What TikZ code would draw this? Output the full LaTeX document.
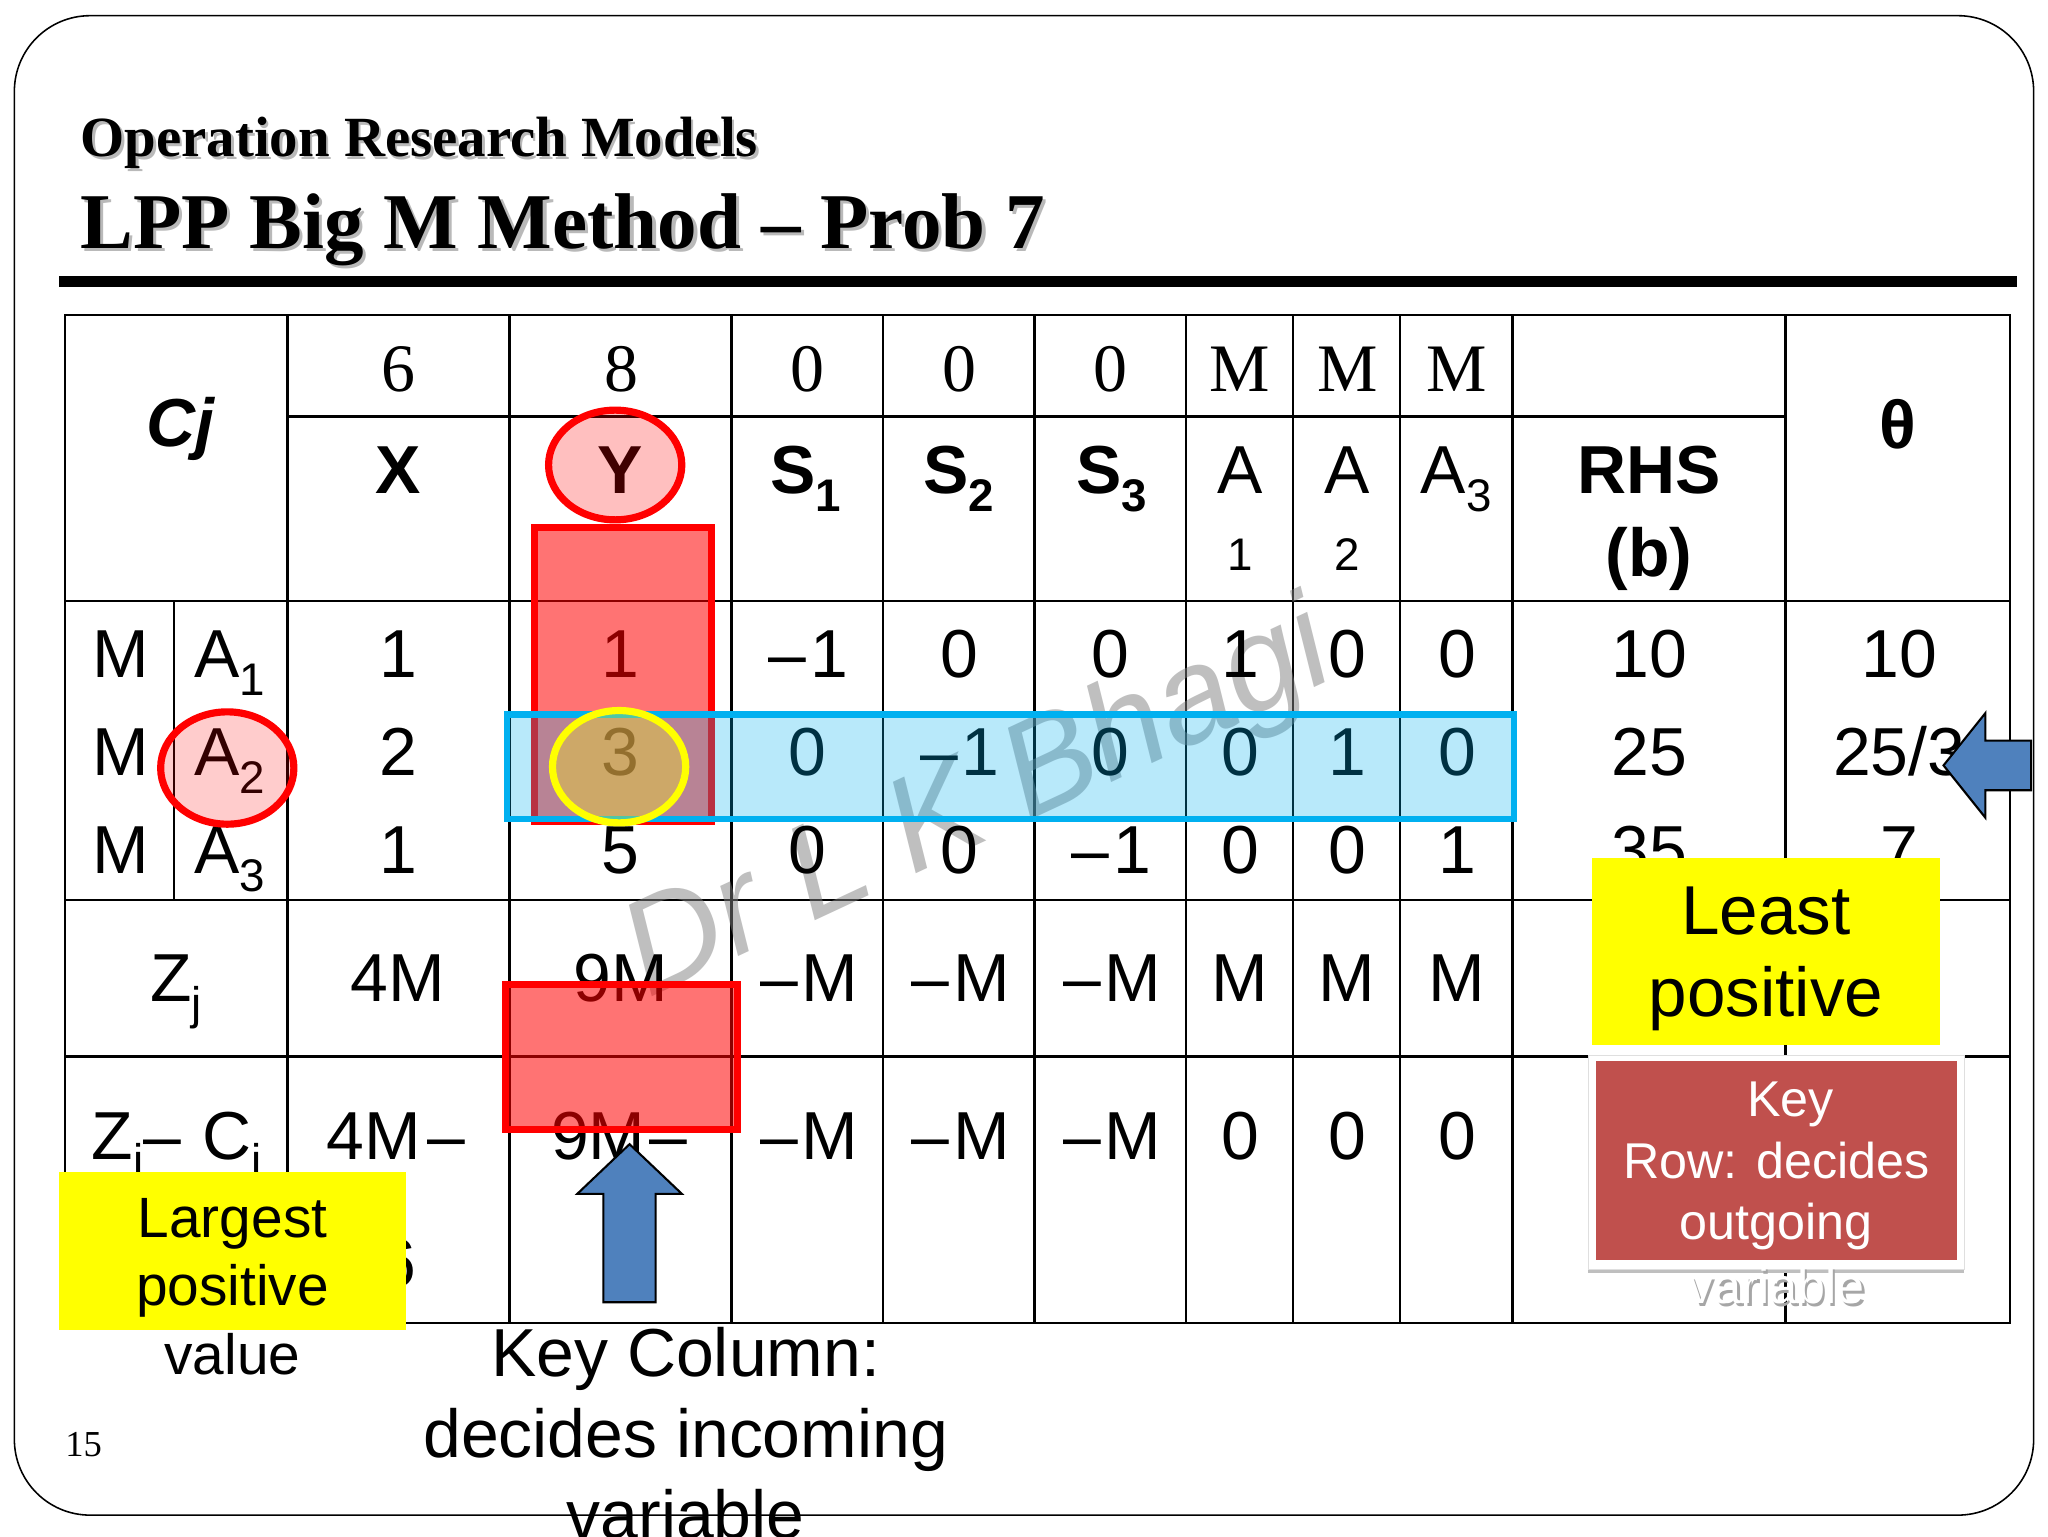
\documentclass[tikz,border=0pt]{standalone}
\usepackage{fontspec}
\setmainfont{Liberation Sans}
\newfontfamily\timesfont{Liberation Serif}
\definecolor{rowblue}{HTML}{00B0F0}
\definecolor{arrowblue}{HTML}{4F81BD}
\definecolor{keyred}{HTML}{C0504D}
\definecolor{noteyellow}{RGB}{255,255,0}
\definecolor{ringred}{RGB}{255,0,0}
\newcommand{\sbs}[1]{\raisebox{-.26em}{\fontsize{35}{35}\selectfont #1}}
\newcommand{\mn}{–\kern3pt}
\tikzset{
    cell/.style={anchor=base, inner sep=0, font=\fontsize{52}{60}\selectfont},
    head/.style={cell, font=\fontsize{52}{60}\selectfont\bfseries},
    cost/.style={cell, font=\fontsize{52}{60}\selectfont\timesfont},
    small/.style={cell, font=\fontsize{35}{40}\selectfont},
    grid/.style={line width=1.8pt},
    yellowbox/.style={fill=noteyellow, inner sep=0, align=center},
    pointer/.style={fill=arrowblue, draw=black, line width=1.6pt, line join=miter}
}
\begin{document}
\begin{tikzpicture}[x=1pt, y=-1pt]
    \useasboundingbox (0,0) rectangle (1568,1176);
    \fill[white] (0,0) rectangle (1568,1176);
    \draw[line width=1.2pt, rounded corners=58pt] (11,12) rectangle (1557,1160);

    % title
    \node[anchor=base west, inner sep=0, gray!55, font=\fontsize{43.5}{50}\selectfont\timesfont\bfseries] (subshadow) at (63.5,122) {Operation Research Models};
    \node[anchor=base west, inner sep=0, font=\fontsize{43.5}{50}\selectfont\timesfont\bfseries] (subtitle) at (61.5,120) {Operation Research Models};
    \node[anchor=base west, inner sep=0, gray!55, font=\fontsize{60.5}{70}\selectfont\timesfont\bfseries] (titleshadow) at (64,192.5) {LPP Big M Method – Prob 7};
    \node[anchor=base west, inner sep=0, font=\fontsize{60.5}{70}\selectfont\timesfont\bfseries] (title) at (61.5,190) {LPP Big M Method – Prob 7};
    \fill (45,211) rectangle (1544,220);

    % table lines
    \draw[grid] (50,241) rectangle (1539,1013);
    \draw[grid] (220,319) -- (1367,319);
    \draw[grid] (50,460) -- (1539,460);
    \draw[grid] (50,689) -- (1539,689);
    \draw[grid] (50,809) -- (1539,809);
    \draw[grid] (133,460) -- (133,689);
    \draw[grid] (220,241) -- (220,1013);
    \draw[grid] (390,241) -- (390,1013);
    \draw[grid] (560,241) -- (560,1013);
    \draw[grid] (676,241) -- (676,1013);
    \draw[grid] (792,241) -- (792,1013);
    \draw[grid] (908,241) -- (908,1013);
    \draw[grid] (990,241) -- (990,1013);
    \draw[grid] (1072,241) -- (1072,1013);
    \draw[grid] (1158,241) -- (1158,1013);
    \draw[grid] (1367,241) -- (1367,1013);

    % watermark
    \node[rotate=25, gray, opacity=.5, inner sep=0, font=\fontsize{103}{115}\selectfont\itshape] (mark) at (750,617) {Dr L K Bhagi};

    % costs
    \node[head, font=\fontsize{52}{60}\selectfont\bfseries\itshape] (cj) at (138,342) {Cj};
    \node[cost] (c1) at (305,300) {6};
    \node[cost] (c2) at (475.5,300) {8};
    \node[cost] (c3) at (618.5,300) {0};
    \node[cost] (c4) at (734.5,300) {0};
    \node[cost] (c5) at (850.5,300) {0};
    \node[cost] (c6) at (949.5,300) {M};
    \node[cost] (c7) at (1031.5,300) {M};
    \node[cost] (c8) at (1115,300) {M};
    \node[head] (theta) at (1453,343) {θ};

    % heads
    \node[head] (hx) at (305,378) {X};
    \node[head] (hy) at (475,378) {Y};
    \node[head] (hs1) at (617,378) {S\sbs{1}};
    \node[head] (hs2) at (734,378) {S\sbs{2}};
    \node[head] (hs3) at (851,378) {S\sbs{3}};
    \node[cell] (ha1) at (949.5,378) {A};
    \node[small] (ha1b) at (949.5,437) {1};
    \node[cell] (ha2) at (1031.5,378) {A};
    \node[small] (ha2b) at (1031.5,437) {2};
    \node[cell] (ha3) at (1115,378) {A\sbs{3}};
    \node[head] (hrhs) at (1262.5,378) {RHS};
    \node[head] (hb) at (1262.5,441) {(b)};

    % row A1
    \node[cell] (m1) at (92.5,519) {M};
    \node[cell] (a1) at (176,519) {A\sbs{1}};
    \node[cell] (r1x) at (305,519) {1};
    \node[cell] (r1y) at (475,519) {1};
    \node[cell] (r1s1) at (619,519) {\mn 1};
    \node[cell] (r1s2) at (734.5,519) {0};
    \node[cell] (r1s3) at (850.5,519) {0};
    \node[cell] (r1a1) at (949.5,519) {1};
    \node[cell] (r1a2) at (1031.5,519) {0};
    \node[cell] (r1a3) at (1115.5,519) {0};
    \node[cell] (r1b) at (1263,519) {10};
    \node[cell] (r1t) at (1454,519) {10};

    % row A2
    \node[cell] (m2) at (92.5,594) {M};
    \node[cell] (a2) at (176,594) {A\sbs{2}};
    \node[cell] (r2x) at (305,594) {2};
    \node[cell] (r2y) at (475,594) {3};
    \node[cell] (r2s1) at (618.5,594) {0};
    \node[cell] (r2s2) at (735,594) {\mn 1};
    \node[cell] (r2s3) at (850.5,594) {0};
    \node[cell] (r2a1) at (949.5,594) {0};
    \node[cell] (r2a2) at (1031.5,594) {1};
    \node[cell] (r2a3) at (1115.5,594) {0};
    \node[cell] (r2b) at (1263,594) {25};
    \node[cell] (r2t) at (1454,594) {25/3};

    % row A3
    \node[cell] (m3) at (92.5,669) {M};
    \node[cell] (a3) at (176,669) {A\sbs{3}};
    \node[cell] (r3x) at (305,669) {1};
    \node[cell] (r3y) at (475,669) {5};
    \node[cell] (r3s1) at (618.5,669) {0};
    \node[cell] (r3s2) at (734.5,669) {0};
    \node[cell] (r3s3) at (851,669) {\mn 1};
    \node[cell] (r3a1) at (949.5,669) {0};
    \node[cell] (r3a2) at (1031.5,669) {0};
    \node[cell] (r3a3) at (1115.5,669) {1};
    \node[cell] (r3b) at (1263,669) {35};
    \node[cell] (r3t) at (1454,669) {7};

    % row Zj
    \node[cell] (zj) at (135,767) {Z\sbs{j}};
    \node[cell] (zx) at (304.5,767) {4M};
    \node[cell] (zy) at (475,767) {9M};
    \node[cell] (zs1) at (619.5,767) {\mn M};
    \node[cell] (zs2) at (735.5,767) {\mn M};
    \node[cell] (zs3) at (851.5,767) {\mn M};
    \node[cell] (za1) at (949.5,767) {M};
    \node[cell] (za2) at (1031.5,767) {M};
    \node[cell] (za3) at (1115.5,767) {M};

    % row Zj-Cj
    \node[cell] (net) at (135.5,887.5) {Z\sbs{j}–\kern2pt\ C\sbs{j}};
    \node[cell] (nx) at (303,887.5) {4M\kern5pt–};
    \node[cell] (nxb) at (304,985) {6};
    \node[cell] (ny) at (474,887.5) {9M\kern3pt–};
    \node[cell] (ns1) at (619.5,887.5) {\mn M};
    \node[cell] (ns2) at (735.5,887.5) {\mn M};
    \node[cell] (ns3) at (851.5,887.5) {\mn M};
    \node[cell] (na1) at (949.5,887.5) {0};
    \node[cell] (na2) at (1031.5,887.5) {0};
    \node[cell] (na3) at (1115.5,887.5) {0};

    % highlights
    \draw[ringred, line width=5.5pt, fill=ringred, fill opacity=.25] (471,356) ellipse (51 and 42);
    \draw[ringred, line width=5.5pt, fill=ringred, fill opacity=.55] (409.5,404) rectangle (544.5,629);
    \draw[rowblue, line width=5pt, fill=rowblue, fill opacity=.28] (388,547) rectangle (1159,627);
    \draw[noteyellow, line width=5.5pt, fill=noteyellow, fill opacity=.3] (474,587) ellipse (51 and 43);
    \draw[ringred, line width=5.5pt, fill=ringred, fill opacity=.2] (174,588) ellipse (51 and 43);
    \draw[ringred, line width=5.5pt, fill=ringred, fill opacity=.55] (387,754) rectangle (564.5,864.5);

    % pointers
    \draw[pointer] (482,876) -- (522,914) -- (502,914) -- (502,997) -- (462,997) -- (462,914) -- (442,914) -- cycle;
    \draw[pointer] (1488,586) -- (1520,546) -- (1520,567) -- (1555,567) -- (1555,605) -- (1520,605) -- (1520,626) -- cycle;

    % notes
    \node[yellowbox, minimum width=266pt, minimum height=143pt] (least) at (1352,728.5) {};
    \node[inner sep=0, align=center, font=\fontsize{53}{63}\selectfont] (leasttext) at (1352,734) {Least\\positive};
    \node[yellowbox, minimum width=266pt, minimum height=121pt] (largest) at (178,957.5) {};
    \node[inner sep=0, align=center, font=\fontsize{43.5}{52.5}\selectfont] (largesttext) at (178,985) {Largest\\positive\\value};
    \node[inner sep=0, align=center, font=\fontsize{52}{62}\selectfont] (keycol) at (525,1097) {Key Column:\\decides incoming\\variable};
    \fill[gray!50] (1216,814) rectangle (1504,975);
    \filldraw[fill=white, draw=gray!25, line width=.8pt] (1216,808) rectangle (1504,972);
    \fill[keyred] (1222,812) rectangle (1498,965);
    \node[anchor=base, inner sep=0, white, font=\fontsize{38.5}{48}\selectfont] (keya) at (1371,855) {Key};
    \node[anchor=base, inner sep=0, white, font=\fontsize{38.5}{48}\selectfont] (keyb) at (1360,902) {Row: decides};
    \node[anchor=base, inner sep=0, white, font=\fontsize{38.5}{48}\selectfont] (keyc) at (1360,949) {outgoing};
    \node[anchor=base, inner sep=0, gray!70, font=\fontsize{38.5}{48}\selectfont] (keydshadow) at (1362,1000) {variable};
    \node[anchor=base, inner sep=0, white, font=\fontsize{38.5}{48}\selectfont] (keyd) at (1360,998) {variable};
    \node[anchor=base, inner sep=0, font=\fontsize{28}{34}\selectfont\timesfont] (page) at (64,1115) {15};
\end{tikzpicture}
\end{document}
